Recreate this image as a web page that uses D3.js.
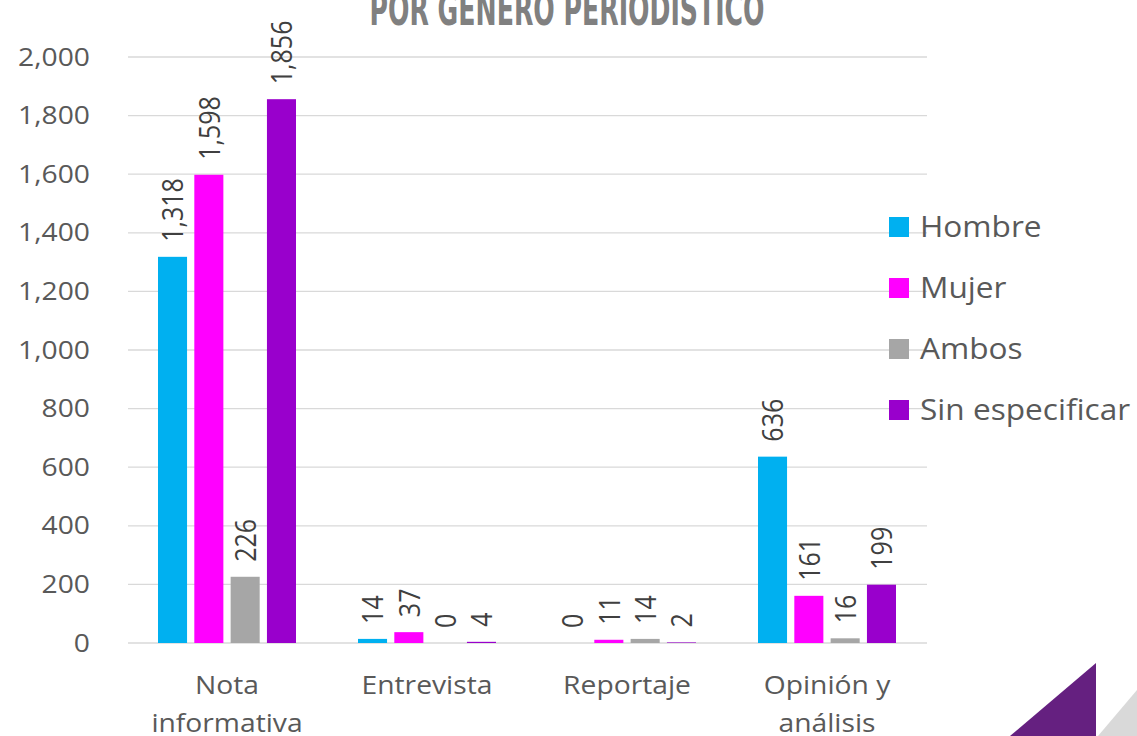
<!DOCTYPE html>
<html>
<head>
<meta charset="utf-8">
<script src="https://cdn.jsdelivr.net/npm/d3@7"></script>
<style>
  html, body { margin: 0; padding: 0; background: #fff; }
  svg { display: block; font-family: "Open Sans", sans-serif; }
</style>
</head>
<body>
<svg id="chart"></svg>
<script>
// data
const categories = [["Nota", "informativa"], ["Entrevista"], ["Reportaje"], ["Opinión y", "análisis"]];
const series = ["Hombre", "Mujer", "Ambos", "Sin especificar"];
const seriesColors = ["#00B0F0", "#FF00FF", "#A6A6A6", "#9900CC"];
const hombre = [1318, 14, 0, 636];
const mujer = [1598, 37, 11, 161];
const ambos = [226, 0, 14, 16];
const sinEspecificar = [1856, 4, 2, 199];
const yTicks = [0, 200, 400, 600, 800, 1000, 1200, 1400, 1600, 1800, 2000];
const title = "POR GÉNERO PERIODÍSTICO";

const values = [hombre, mujer, ambos, sinEspecificar];

const width = 1137, height = 736;
// the original text is a bit wider than Open Sans
const sx = 1.13;
const svg = d3.select("#chart").attr("width", width).attr("height", height);

const x0 = d3.scaleBand().domain(d3.range(categories.length)).range([127, 927]);
const x1 = d3.scaleBand().domain(d3.range(series.length)).range([31, 169]).paddingInner(0.2);
const y = d3.scaleLinear().domain([0, 2000]).range([643, 57]);
const fmt = d3.format(",");

// title (cut off at the top like the reference)
svg.append("text")
  .attr("x", 567).attr("y", 25)
  .attr("text-anchor", "middle")
  .attr("textLength", 395).attr("lengthAdjust", "spacingAndGlyphs")
  .style("font-family", "'Liberation Sans Narrow', 'DejaVu Sans Condensed', sans-serif")
  .style("font-weight", "bold")
  .style("font-size", "44px")
  .style("fill", "#808080")
  .text(title);

// gridlines
svg.append("g").selectAll("line")
  .data(yTicks).enter().append("line")
    .attr("x1", 128).attr("x2", 927)
    .attr("y1", d => y(d)).attr("y2", d => y(d))
    .style("stroke", "#d9d9d9")
    .style("stroke-width", "1.3px");

// y axis labels
const yAxis = svg.append("g")
  .attr("transform", "translate(90,0)")
  .call(d3.axisLeft(y).tickValues(yTicks).tickSize(0).tickPadding(0).tickFormat(fmt));
yAxis.select(".domain").remove();
yAxis.selectAll("text")
  .attr("transform", "scale(" + sx + ",1)")
  .style("font-family", "'Open Sans', sans-serif")
  .style("font-size", "25px")
  .style("fill", "#595959");

// bars
const groups = svg.append("g").selectAll("g")
  .data(categories.map((c, i) => i)).enter().append("g")
    .attr("transform", i => "translate(" + x0(i) + ",0)");

groups.selectAll("rect")
  .data(i => values.map((v, s) => ({ s: s, v: v[i] })))
  .enter().append("rect")
    .attr("x", d => x1(d.s))
    .attr("width", x1.bandwidth())
    .attr("y", d => y(d.v))
    .attr("height", d => y(0) - y(d.v))
    .style("fill", d => seriesColors[d.s]);

// value labels, rotated
groups.selectAll("text.val")
  .data(i => values.map((v, s) => ({ s: s, v: v[i] })))
  .enter().append("text")
    .attr("class", "val")
    .attr("transform", d => "translate(" + (x1(d.s) + x1.bandwidth() / 2 + 1) + "," + (y(d.v) - 15) + ") scale(" + sx + ",1) rotate(-90)")
    .attr("dy", "0.35em")
    .style("font-size", "25px")
    .style("fill", "#404040")
    .text(d => fmt(d.v));

// category labels
const catLabels = svg.append("g").selectAll("g")
  .data(categories).enter().append("g")
    .attr("transform", (d, i) => "translate(" + (x0(i) + x0.bandwidth() / 2) + ",694) scale(" + sx + ",1)")
  .append("text")
    .attr("text-anchor", "middle")
    .style("font-size", "25px")
    .style("fill", "#595959");
catLabels.selectAll("tspan")
  .data(d => d).enter().append("tspan")
    .attr("x", 0)
    .attr("dy", (d, i) => i === 0 ? 0 : 38)
    .text(d => d);

// legend
const legend = svg.append("g").selectAll("g")
  .data(series).enter().append("g")
    .attr("transform", (d, i) => "translate(889," + (227 + i * 61) + ")");
legend.append("rect")
  .attr("x", 0).attr("y", -10).attr("width", 20).attr("height", 20)
  .style("fill", (d, i) => seriesColors[i]);
legend.append("g")
  .attr("transform", "translate(31,0) scale(1.09,1)")
  .append("text")
    .attr("dy", "0.35em")
    .style("font-size", "29px")
    .style("fill", "#595959")
    .text(d => d);

// corner decoration
svg.append("path")
  .attr("d", "M1010,736 L1096,663 L1096,736 Z")
  .style("fill", "#652080");
svg.append("path")
  .attr("d", "M1098,736 L1137,690 L1137,736 Z")
  .style("fill", "#d9d9d9");
</script>
</body>
</html>
